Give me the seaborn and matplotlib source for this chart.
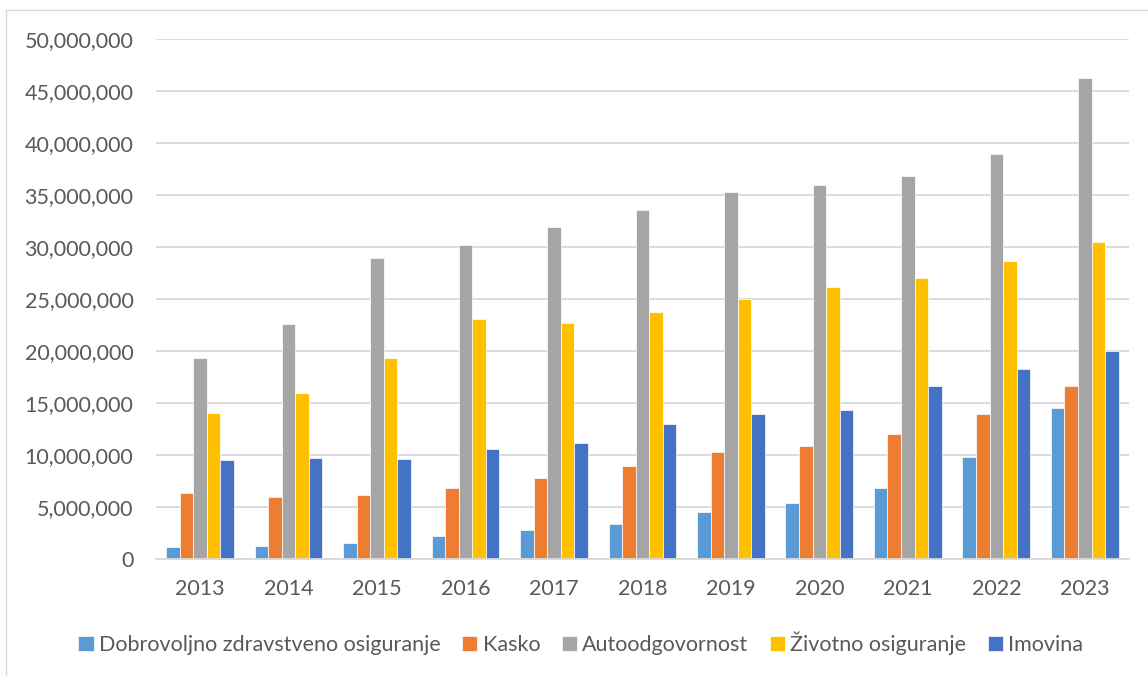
import matplotlib
matplotlib.use("Agg")
import matplotlib.pyplot as plt
import seaborn as sns
import pandas as pd
from matplotlib.ticker import FuncFormatter
from matplotlib.lines import Line2D

years = ["2013", "2014", "2015", "2016", "2017", "2018", "2019", "2020", "2021", "2022", "2023"]
series_names = ["Dobrovoljno zdravstveno osiguranje", "Kasko", "Autoodgovornost",
                "Životno osiguranje", "Imovina"]
dobrovoljno = [1150000, 1310000, 1570000, 2210000, 2850000, 3430000, 4550000, 5420000, 6830000, 9790000, 14500000]
kasko = [6410000, 6030000, 6180000, 6890000, 7790000, 8940000, 10290000, 10930000, 12030000, 13940000, 16620000]
autoodgovornost = [19360000, 22650000, 28970000, 30220000, 31950000, 33520000, 35320000, 35990000, 36830000, 38920000, 46220000]
zivotno = [14070000, 16000000, 19350000, 23100000, 22720000, 23750000, 25030000, 26150000, 27040000, 28630000, 30460000]
imovina = [9520000, 9780000, 9650000, 10600000, 11200000, 13040000, 14000000, 14360000, 16690000, 18280000, 20010000]
colors = ["#5B9BD5", "#ED7D31", "#A5A5A5", "#FFC000", "#4472C4"]

values = [dobrovoljno, kasko, autoodgovornost, zivotno, imovina]
rows = []
for name, vals in zip(series_names, values):
    for y, v in zip(years, vals):
        rows.append({"Godina": y, "Vrsta": name, "Vrijednost": v})
df = pd.DataFrame(rows)

sns.set_theme(style="white")
plt.rcParams["font.family"] = ["Lato", "DejaVu Sans"]
text_color = "#595959"
fs = 15.5

fig = plt.figure(figsize=(11.48, 6.76), dpi=100)
ax = fig.add_axes([155.7 / 1148, 116.7 / 676, (1129 - 155.7) / 1148, (559.3 - 39) / 676])

sns.barplot(data=df, x="Godina", y="Vrijednost", hue="Vrsta", order=years,
            hue_order=series_names, palette=colors, width=0.765, gap=0,
            edgecolor="white", linewidth=0.5, saturation=1, ax=ax, legend=True)

ax.set_ylim(0, 50000000)
ax.set_yticks(range(0, 50000001, 5000000))
ax.yaxis.set_major_formatter(FuncFormatter(lambda v, p: f"{int(v):,}"))
ax.grid(axis="y", color="#D9D9D9", linewidth=1.3)
ax.set_axisbelow(True)
for s in ["top", "right", "left"]:
    ax.spines[s].set_visible(False)
ax.spines["bottom"].set_color("#D9D9D9")
ax.spines["bottom"].set_linewidth(1.3)
ax.set_xlabel("")
ax.set_ylabel("")
ax.tick_params(axis="both", length=0, labelsize=fs, colors=text_color)
ax.tick_params(axis="y", pad=16)
ax.tick_params(axis="x", pad=14)
ax.set_xlim(-0.5, len(years) - 0.5)

handles, labels = ax.get_legend_handles_labels()
ax.get_legend().remove()
fig.legend(handles, labels, loc="center", bbox_to_anchor=(0.506, 1 - 643 / 676),
           ncol=5, frameon=False, fontsize=fs, labelcolor=text_color,
           handlelength=0.7, handleheight=0.7, handletextpad=0.25, columnspacing=1.0)

# chart frame
fig.add_artist(Line2D([6 / 1148, 6 / 1148], [0, 1 - 10 / 676], transform=fig.transFigure,
                      color="#D9D9D9", linewidth=1))
fig.add_artist(Line2D([6 / 1148, 1], [1 - 10 / 676, 1 - 10 / 676], transform=fig.transFigure,
                      color="#D9D9D9", linewidth=1))

fig.savefig("out.png", dpi=100)
